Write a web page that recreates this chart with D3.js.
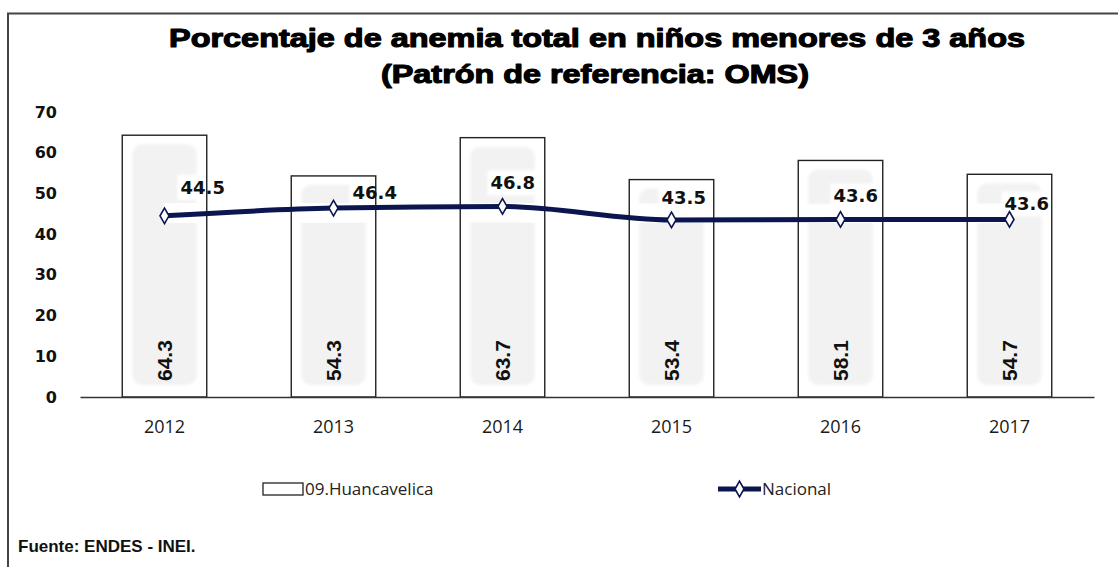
<!DOCTYPE html>
<html>
<head>
<meta charset="utf-8">
<script src="https://cdn.jsdelivr.net/npm/d3@7"></script>
<style>
  html, body { margin: 0; padding: 0; background: #fff; }
  svg { display: block; }
</style>
</head>
<body>
<div id="chart"></div>
<script>
var years = ['2012', '2013', '2014', '2015', '2016', '2017'];
var huancavelica = [64.3, 54.3, 63.7, 53.4, 58.1, 54.7];
var nacional = [44.5, 46.4, 46.8, 43.5, 43.6, 43.6];
var yTicks = [0, 10, 20, 30, 40, 50, 60, 70];
var titleLines = ['Porcentaje de anemia total en niños menores de 3 años', '(Patrón de referencia: OMS)'];
var legendNames = ['09.Huancavelica', 'Nacional'];
var sourceText = 'Fuente: ENDES - INEI.';

// manual nudges of the line labels, as in the original chart
var lineLabelDx = [16, 19, -12, -10, -7, -5];
var lineLabelDy = [-22, -9, -17, -16, -17, -9];

(function() {
    var width = 1118, height = 567;
    var navy = '#0b1650';

    var svg = d3.select('#chart').append('svg')
        .attr('width', width)
        .attr('height', height);

    var defs = svg.append('defs');
    defs.append('filter').attr('id', 'soft')
        .attr('x', '-20%').attr('y', '-20%').attr('width', '140%').attr('height', '140%')
        .append('feGaussianBlur').attr('stdDeviation', 1.6);

    // outer frame (left and top edges visible)
    svg.append('path')
        .attr('d', 'M8,' + height + 'V13.5H' + width)
        .attr('fill', 'none')
        .attr('stroke', '#444')
        .attr('stroke-width', 2);

    var x = d3.scaleBand().domain(years).range([80, 1094]).paddingInner(0.5).paddingOuter(0.25);
    var y = d3.scaleLinear().domain([0, 70]).range([397, 112]);
    var bw = x.bandwidth();

    // title, heavy like Arial Black
    var title = svg.append('g')
        .attr('font-family', '"Liberation Sans", Arial, sans-serif')
        .attr('font-weight', 'bold')
        .attr('fill', '#000')
        .attr('stroke', '#000')
        .attr('stroke-width', 1.1)
        .attr('stroke-linejoin', 'round');
    title.append('text').attr('x', 169).attr('y', 47)
        .attr('font-size', 25).attr('textLength', 856).attr('lengthAdjust', 'spacingAndGlyphs')
        .text(titleLines[0]);
    title.append('text').attr('x', 381).attr('y', 83)
        .attr('font-size', 25).attr('textLength', 428).attr('lengthAdjust', 'spacingAndGlyphs')
        .text(titleLines[1]);

    // y axis labels only
    var yAxis = svg.append('g')
        .attr('transform', 'translate(80,0)')
        .call(d3.axisLeft(y).tickValues(yTicks).tickSize(0).tickPadding(23));
    yAxis.select('.domain').remove();
    yAxis.selectAll('text')
        .attr('font-family', '"DejaVu Sans", sans-serif')
        .attr('font-weight', 'bold')
        .attr('font-size', 16)
        .attr('fill', '#111');

    // grey label backgrounds inside bars
    svg.append('g').selectAll('rect')
        .data(huancavelica)
        .join('rect')
        .attr('x', function(d, i) { return x(years[i]) + 10; })
        .attr('y', function(d) { return y(d) + 9; })
        .attr('width', bw - 20)
        .attr('height', function(d) { return y(0) - 12 - (y(d) + 9); })
        .attr('rx', 10)
        .attr('fill', '#f2f2f2')
        .attr('filter', 'url(#soft)');

    var line = d3.line()
        .x(function(d, i) { return x(years[i]) + bw / 2; })
        .y(function(d) { return y(d); })
        .curve(d3.curveMonotoneX);

    // white halo behind the line
    svg.append('path')
        .datum(nacional)
        .attr('d', line)
        .attr('fill', 'none')
        .attr('stroke', '#fff')
        .attr('stroke-width', 32)
        .attr('filter', 'url(#soft)');

    var haloLayer = svg.append('g');

    // bars (outline only)
    svg.append('g').selectAll('rect')
        .data(huancavelica)
        .join('rect')
        .attr('x', function(d, i) { return x(years[i]); })
        .attr('y', function(d) { return y(d); })
        .attr('width', bw)
        .attr('height', function(d) { return y(0) - y(d); })
        .attr('fill', 'none')
        .attr('stroke', '#222')
        .attr('stroke-width', 1.4);

    // x axis
    var xAxis = svg.append('g')
        .attr('transform', 'translate(0,' + y(0) + ')')
        .call(d3.axisBottom(x).tickSize(0).tickSizeOuter(0).tickPadding(23));
    xAxis.select('.domain').attr('stroke', '#333').attr('stroke-width', 1.6);
    xAxis.selectAll('text')
        .attr('font-family', '"Open Sans", sans-serif')
        .attr('font-size', 18)
        .attr('fill', '#1a1a1a');

    // bar value labels, vertical
    svg.append('g').selectAll('text')
        .data(huancavelica)
        .join('text')
        .attr('transform', function(d, i) {
            return 'translate(' + (x(years[i]) + bw / 2) + ',' + (y(0) - 16) + ') rotate(-90)';
        })
        .attr('dy', '0.36em')
        .attr('font-family', '"Liberation Sans", Arial, sans-serif')
        .attr('font-weight', 'bold')
        .attr('font-size', 21)
        .attr('fill', '#111')
        .text(function(d) { return d.toFixed(1); });

    // national line
    svg.append('path')
        .datum(nacional)
        .attr('d', line)
        .attr('fill', 'none')
        .attr('stroke', navy)
        .attr('stroke-width', 5);

    var diamond = d3.symbol().type(d3.symbolDiamond).size(70);
    svg.append('g').selectAll('path')
        .data(nacional)
        .join('path')
        .attr('d', diamond)
        .attr('transform', function(d, i) { return 'translate(' + (x(years[i]) + bw / 2) + ',' + y(d) + ')'; })
        .attr('fill', '#fff')
        .attr('stroke', navy)
        .attr('stroke-width', 1.6);

    var lineLabels = svg.append('g').selectAll('text')
        .data(nacional)
        .join('text')
        .attr('x', function(d, i) { return x(years[i]) + bw / 2 + lineLabelDx[i]; })
        .attr('y', function(d, i) { return y(d) + lineLabelDy[i]; })
        .attr('font-family', '"DejaVu Sans", sans-serif')
        .attr('font-weight', 'bold')
        .attr('font-size', 18)
        .attr('fill', '#111')
        .text(function(d) { return d.toFixed(1); });

    lineLabels.each(function() {
        var b = this.getBBox();
        haloLayer.append('rect')
            .attr('x', b.x - 3).attr('y', b.y - 2)
            .attr('width', b.width + 6).attr('height', b.height + 4)
            .attr('fill', '#fff')
            .attr('filter', 'url(#soft)');
    });

    // legend
    var legend = svg.append('g')
        .attr('font-family', '"Open Sans", sans-serif')
        .attr('font-size', 17)
        .attr('fill', '#222');
    legend.append('rect')
        .attr('x', 263).attr('y', 483).attr('width', 40).attr('height', 12)
        .attr('fill', '#fff').attr('stroke', '#222').attr('stroke-width', 1.3);
    legend.append('text').attr('x', 305).attr('y', 495).text(legendNames[0]);
    legend.append('line')
        .attr('x1', 718).attr('x2', 761).attr('y1', 489).attr('y2', 489)
        .attr('stroke', navy).attr('stroke-width', 5);
    legend.append('path')
        .attr('d', diamond)
        .attr('transform', 'translate(739.5,489)')
        .attr('fill', '#fff').attr('stroke', navy).attr('stroke-width', 1.6);
    legend.append('text').attr('x', 762).attr('y', 495).text(legendNames[1]);

    // source note
    svg.append('text')
        .attr('x', 18).attr('y', 552)
        .attr('font-family', '"Liberation Sans", Arial, sans-serif')
        .attr('font-weight', 'bold')
        .attr('font-size', 17)
        .attr('fill', '#111')
        .text(sourceText);
})();
</script>
</body>
</html>
